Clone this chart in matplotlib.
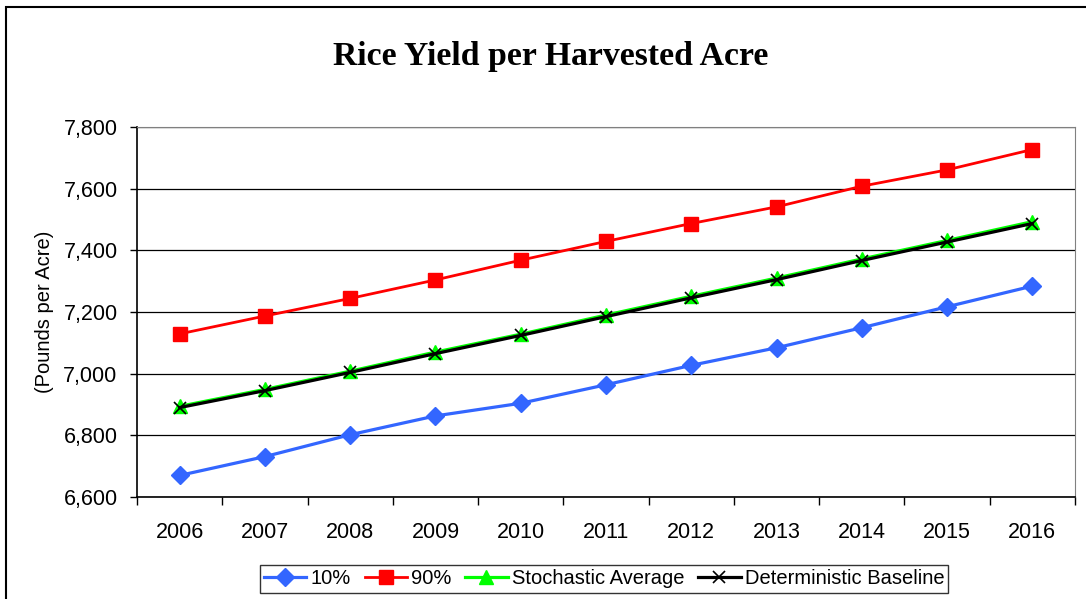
import matplotlib
matplotlib.use("Agg")
import matplotlib.pyplot as plt
from matplotlib.patches import Rectangle

years = ["2006", "2007", "2008", "2009", "2010", "2011",
         "2012", "2013", "2014", "2015", "2016"]
p10 = [6670, 6731, 6802, 6863, 6904, 6964, 7027, 7084, 7149, 7217, 7284]
p90 = [7129, 7187, 7244, 7304, 7368, 7429, 7487, 7541, 7608, 7661, 7727]
stoch_avg = [6894, 6949, 7008, 7070, 7128, 7190, 7251, 7310, 7372, 7432, 7493]
det_base = [6890, 6945, 7004, 7065, 7124, 7185, 7246, 7305, 7367, 7427, 7487]
yticks = [6600, 6800, 7000, 7200, 7400, 7600, 7800]

plt.rcParams['font.family'] = ['Liberation Sans', 'DejaVu Sans']

W, H = 1086, 599
fig = plt.figure(figsize=(W / 100, H / 100), dpi=100)
ax = fig.add_axes([137 / W, (H - 497) / H, (1075 - 137) / W, (497 - 127) / H])

x = list(range(len(years)))

# series
ax.plot(x, p10, color='#3366FF', lw=2.3, marker='D', ms=9, label='10%', zorder=3)
ax.plot(x, p90, color='#FF0000', lw=2.0, marker='s', ms=10, label='90%', zorder=3)
ax.plot(x, stoch_avg, color='#00FF00', lw=2.3, marker='^', ms=10, label='Stochastic Average', zorder=3)
ax.plot(x, det_base, color='black', lw=2.3, marker='x', ms=9, mew=1.2, label='Deterministic Baseline', zorder=4)

# axes
ax.set_ylim(6600, 7800)
ax.set_yticks(yticks)
ax.set_yticklabels([f"{v:,}" for v in yticks], fontsize=15.5)
ax.tick_params(axis='y', direction='out', length=5, width=1, pad=9)
ax.grid(axis='y', color='black', lw=0.9)
ax.set_axisbelow(True)

ax.set_xlim(-0.5, len(years) - 0.5)
ax.set_xticks([i - 0.5 for i in range(len(years) + 1)])
ax.set_xticklabels([])
ax.set_xticks(x, minor=True)
ax.set_xticklabels(years, minor=True, fontsize=15.5)
ax.tick_params(axis='x', which='major', direction='out', length=6, width=1)
ax.tick_params(axis='x', which='minor', length=0, pad=18)

for s in ['top', 'right']:
    ax.spines[s].set_color('#808080')
for s in ['left', 'bottom']:
    ax.spines[s].set_color('black')
    ax.spines[s].set_linewidth(1.2)

ax.set_ylabel("(Pounds per Acre)", fontsize=14.5, labelpad=7)

fig.text(551 / W, 1 - 57 / H, "Rice Yield per Harvested Acre",
         fontsize=24.3, fontweight='bold', family='Liberation Serif',
         ha='center', va='center')

leg = fig.legend(loc='center', bbox_to_anchor=(604 / W, 1 - 579 / H), ncol=4,
                 fontsize=14.5, frameon=True, fancybox=False, shadow=False,
                 handlelength=2.1, handletextpad=0.2, columnspacing=0.7,
                 borderpad=0.2, borderaxespad=0)
leg.get_frame().set_edgecolor('black')
leg.get_frame().set_linewidth(1.0)

# outer chart frame
fig.patches.append(Rectangle((6 / W, -0.1), 2, 1.1 - 7 / H, transform=fig.transFigure,
                             fill=False, edgecolor='black', lw=1.5))

fig.savefig("out.png", dpi=100)
